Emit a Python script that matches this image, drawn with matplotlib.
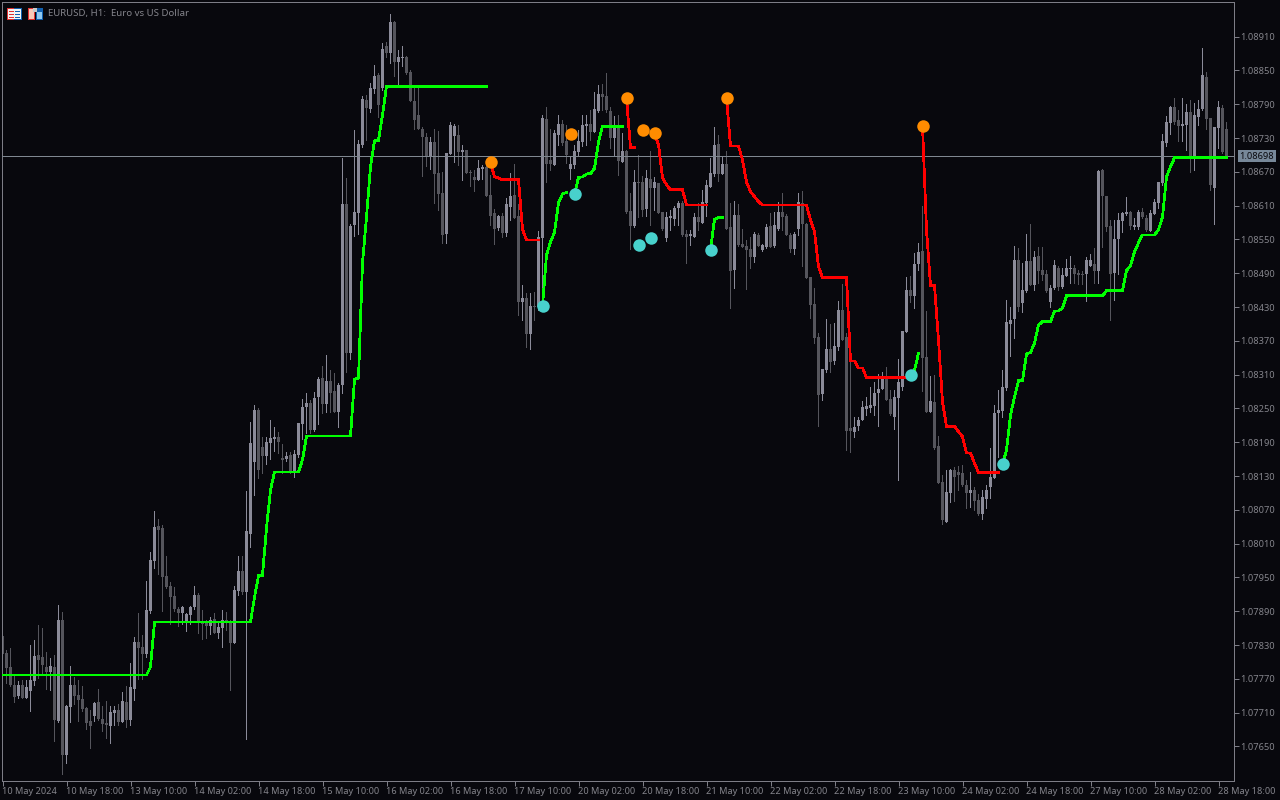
import matplotlib
matplotlib.use('Agg')
import matplotlib.pyplot as plt
import numpy as np
from matplotlib.patches import Rectangle

# quotes are points above 1.07000, one row per 10 hourly bars
opens_pts = [
    846, 816, 791, 759, 739, 759, 736, 748, 766, 812,
    809, 791, 782, 791, 695, 874, 635, 720, 759, 741,
    734, 718, 695, 704, 729, 699, 691, 686, 709, 715,
    693, 729, 697, 752, 835, 826, 814, 890, 979, 1041,
    1038, 953, 935, 917, 894, 887, 869, 883, 897, 919,
    871, 871, 864, 876, 851, 860, 874, 871, 834, 926,
    961, 924, 1027, 1155, 1247, 1182, 1166, 1189, 1196, 1199,
    1162, 1160, 1167, 1137, 1167, 1222, 1253, 1260, 1212, 1270,
    1304, 1258, 1299, 1281, 1244, 1292, 1613, 1348, 1576, 1597,
    1718, 1798, 1782, 1817, 1842, 1819, 1893, 1881, 1936, 1865,
    1872, 1874, 1847, 1796, 1771, 1746, 1732, 1698, 1723, 1668,
    1632, 1560, 1702, 1734, 1735, 1705, 1709, 1670, 1661, 1656,
    1675, 1679, 1629, 1597, 1570, 1592, 1561, 1608, 1629, 1592,
    1439, 1446, 1382, 1432, 1430, 1552, 1764, 1691, 1682, 1735,
    1755, 1725, 1675, 1682, 1705, 1723, 1751, 1755, 1741, 1778,
    1808, 1805, 1778, 1730, 1748, 1687, 1707, 1600, 1574, 1652,
    1652, 1604, 1657, 1641, 1650, 1599, 1552, 1588, 1586, 1606,
    1615, 1560, 1556, 1554, 1590, 1579, 1615, 1643, 1666, 1719,
    1666, 1684, 1572, 1496, 1593, 1542, 1538, 1533, 1519, 1558,
    1531, 1537, 1574, 1538, 1569, 1599, 1592, 1558, 1533, 1569,
    1615, 1577, 1483, 1435, 1377, 1276, 1318, 1356, 1334, 1359,
    1425, 1377, 1215, 1208, 1219, 1230, 1249, 1251, 1254, 1277,
    1284, 1302, 1267, 1235, 1269, 1288, 1386, 1460, 1450, 1506,
    1530, 1341, 1244, 1261, 1183, 1119, 1048, 1100, 1141, 1137,
    1135, 1114, 1100, 1105, 1087, 1063, 1089, 1111, 1127, 1242,
    1245, 1286, 1400, 1409, 1513, 1437, 1458, 1512, 1469, 1521,
    1496, 1489, 1439, 1464, 1499, 1466, 1485, 1498, 1499, 1490,
    1489, 1489, 1503, 1506, 1494, 1673, 1627, 1574, 1490, 1551,
    1583, 1595, 1599, 1572, 1572, 1599, 1588, 1565, 1595, 1615,
    1650, 1721, 1757, 1785, 1762, 1751, 1753, 1776, 1698, 1767,
    1782, 1838, 1766, 1641, 1748, 1783, 1746,
]
highs_pts = [
    848, 821, 825, 775, 766, 768, 768, 830, 839, 865,
    860, 818, 807, 812, 901, 889, 723, 793, 773, 768,
    757, 720, 715, 729, 752, 722, 731, 722, 722, 725,
    746, 757, 798, 844, 887, 848, 944, 995, 1068, 1054,
    1043, 988, 942, 933, 897, 899, 887, 899, 935, 922,
    892, 874, 880, 887, 871, 892, 889, 874, 935, 988,
    988, 1103, 1226, 1256, 1251, 1199, 1199, 1230, 1217, 1208,
    1187, 1173, 1173, 1176, 1224, 1267, 1277, 1265, 1279, 1306,
    1325, 1345, 1318, 1313, 1295, 1695, 1659, 1577, 1744, 1726,
    1805, 1806, 1828, 1860, 1845, 1899, 1900, 1950, 1938, 1886,
    1893, 1876, 1851, 1822, 1822, 1750, 1739, 1732, 1746, 1742,
    1670, 1703, 1758, 1755, 1753, 1718, 1709, 1673, 1673, 1691,
    1682, 1691, 1664, 1604, 1593, 1597, 1624, 1668, 1684, 1613,
    1469, 1455, 1455, 1457, 1565, 1771, 1785, 1746, 1744, 1771,
    1762, 1753, 1698, 1718, 1744, 1771, 1771, 1780, 1812, 1824,
    1826, 1845, 1785, 1769, 1771, 1739, 1709, 1632, 1673, 1700,
    1663, 1673, 1707, 1661, 1650, 1599, 1599, 1602, 1609, 1618,
    1618, 1567, 1567, 1597, 1615, 1638, 1655, 1695, 1750, 1735,
    1696, 1707, 1615, 1618, 1613, 1569, 1549, 1554, 1563, 1561,
    1542, 1577, 1597, 1599, 1616, 1632, 1595, 1561, 1563, 1632,
    1636, 1579, 1483, 1464, 1384, 1320, 1409, 1400, 1402, 1441,
    1471, 1384, 1352, 1235, 1235, 1263, 1270, 1288, 1297, 1311,
    1315, 1324, 1283, 1283, 1338, 1387, 1483, 1485, 1526, 1544,
    1609, 1423, 1308, 1309, 1201, 1132, 1141, 1143, 1146, 1148,
    1150, 1123, 1137, 1111, 1098, 1105, 1114, 1180, 1256, 1283,
    1318, 1442, 1430, 1538, 1535, 1508, 1560, 1577, 1530, 1537,
    1537, 1496, 1469, 1514, 1503, 1499, 1515, 1521, 1505, 1496,
    1494, 1519, 1524, 1535, 1673, 1675, 1627, 1585, 1585, 1597,
    1599, 1625, 1600, 1588, 1602, 1606, 1593, 1602, 1622, 1652,
    1737, 1769, 1787, 1801, 1780, 1801, 1790, 1797, 1792, 1797,
    1890, 1847, 1766, 1750, 1796, 1789, 1758,
]
lows_pts = [
    792, 763, 757, 729, 736, 736, 736, 713, 759, 771,
    777, 752, 750, 659, 693, 601, 620, 693, 725, 695,
    713, 681, 647, 695, 697, 677, 665, 656, 688, 688,
    693, 684, 688, 732, 770, 770, 809, 887, 967, 956,
    890, 931, 867, 890, 864, 867, 855, 867, 894, 851,
    841, 842, 849, 851, 842, 826, 857, 750, 834, 919,
    921, 663, 1004, 1096, 1127, 1135, 1151, 1160, 1174, 1171,
    1135, 1157, 1135, 1128, 1164, 1196, 1206, 1206, 1210, 1222,
    1242, 1244, 1244, 1244, 1217, 1277, 1315, 1338, 1556, 1560,
    1714, 1726, 1776, 1810, 1767, 1815, 1874, 1863, 1840, 1821,
    1858, 1844, 1796, 1746, 1746, 1663, 1680, 1675, 1615, 1602,
    1544, 1544, 1702, 1687, 1682, 1656, 1668, 1645, 1636, 1656,
    1657, 1627, 1576, 1542, 1567, 1554, 1556, 1585, 1588, 1416,
    1407, 1359, 1356, 1407, 1425, 1437, 1652, 1673, 1682, 1718,
    1718, 1686, 1657, 1677, 1700, 1716, 1718, 1726, 1741, 1776,
    1780, 1776, 1712, 1698, 1664, 1687, 1597, 1533, 1572, 1590,
    1592, 1592, 1576, 1602, 1597, 1567, 1547, 1567, 1576, 1576,
    1556, 1508, 1540, 1554, 1567, 1579, 1592, 1643, 1663, 1654,
    1666, 1569, 1428, 1464, 1538, 1537, 1462, 1499, 1510, 1538,
    1530, 1535, 1537, 1537, 1567, 1567, 1558, 1528, 1524, 1558,
    1503, 1482, 1411, 1366, 1219, 1265, 1315, 1315, 1329, 1354,
    1371, 1176, 1173, 1199, 1212, 1230, 1238, 1244, 1238, 1219,
    1284, 1265, 1238, 1214, 1123, 1283, 1386, 1439, 1428, 1496,
    1281, 1244, 1244, 1178, 1118, 1045, 1048, 1084, 1086, 1105,
    1112, 1073, 1075, 1070, 1061, 1054, 1073, 1091, 1127, 1164,
    1235, 1283, 1343, 1375, 1423, 1421, 1457, 1469, 1460, 1473,
    1478, 1457, 1430, 1462, 1460, 1464, 1485, 1473, 1473, 1471,
    1471, 1441, 1503, 1473, 1473, 1537, 1565, 1407, 1442, 1489,
    1563, 1593, 1569, 1569, 1569, 1588, 1565, 1565, 1595, 1606,
    1647, 1716, 1737, 1755, 1725, 1725, 1709, 1670, 1673, 1753,
    1780, 1746, 1638, 1577, 1712, 1703, 1698,
]
closes_pts = [
    814, 789, 759, 738, 759, 736, 755, 768, 810, 803,
    794, 782, 793, 697, 874, 635, 722, 759, 739, 732,
    716, 691, 686, 727, 699, 690, 688, 711, 715, 693,
    731, 697, 755, 835, 825, 814, 892, 981, 1040, 1034,
    951, 933, 915, 894, 887, 897, 885, 897, 919, 871,
    868, 864, 874, 851, 862, 874, 871, 834, 928, 961,
    924, 1032, 1189, 1247, 1141, 1166, 1190, 1197, 1199, 1190,
    1159, 1166, 1135, 1169, 1224, 1253, 1260, 1212, 1269, 1302,
    1258, 1299, 1277, 1244, 1292, 1613, 1348, 1574, 1599, 1719,
    1799, 1783, 1819, 1840, 1789, 1888, 1881, 1936, 1865, 1874,
    1874, 1845, 1796, 1762, 1746, 1732, 1698, 1723, 1666, 1631,
    1558, 1703, 1753, 1751, 1705, 1709, 1668, 1668, 1656, 1677,
    1679, 1627, 1592, 1569, 1592, 1561, 1613, 1627, 1588, 1439,
    1446, 1382, 1432, 1430, 1554, 1766, 1684, 1684, 1739, 1755,
    1721, 1700, 1684, 1707, 1725, 1753, 1755, 1741, 1782, 1808,
    1803, 1780, 1730, 1748, 1689, 1707, 1599, 1574, 1652, 1650,
    1602, 1659, 1641, 1652, 1597, 1569, 1590, 1592, 1606, 1615,
    1558, 1554, 1560, 1590, 1581, 1616, 1647, 1668, 1718, 1666,
    1684, 1569, 1494, 1593, 1540, 1537, 1531, 1519, 1560, 1538,
    1540, 1572, 1537, 1576, 1599, 1590, 1558, 1533, 1560, 1616,
    1577, 1482, 1434, 1375, 1274, 1320, 1356, 1332, 1361, 1425,
    1371, 1210, 1210, 1217, 1230, 1253, 1254, 1256, 1277, 1284,
    1302, 1265, 1240, 1270, 1297, 1387, 1460, 1450, 1506, 1528,
    1340, 1244, 1263, 1180, 1118, 1052, 1102, 1141, 1128, 1132,
    1114, 1100, 1105, 1086, 1063, 1093, 1105, 1128, 1242, 1247,
    1288, 1403, 1407, 1513, 1430, 1460, 1512, 1469, 1519, 1494,
    1487, 1458, 1464, 1505, 1466, 1487, 1499, 1499, 1489, 1487,
    1487, 1514, 1514, 1494, 1671, 1627, 1572, 1489, 1551, 1585,
    1597, 1599, 1574, 1576, 1599, 1590, 1567, 1597, 1616, 1652,
    1725, 1758, 1785, 1758, 1751, 1755, 1776, 1698, 1771, 1782,
    1842, 1764, 1647, 1750, 1785, 1705, 1698,
]

# indicator line pieces, (first bar, values)
up_a = ([777] * 37 + [791, 871] + [871] * 24 + [915, 953, 954, 1038, 1105] + [1137] * 7
        + [1159] + [1201] * 12 + [1302, 1304, 1508, 1590, 1679, 1725, 1726, 1771] + [1822] * 26)
up_b = [1432, 1522, 1546, 1562, 1615, 1631, 1633]
up_c = [1631, 1660, 1661, 1666, 1667, 1676, 1723] + [1751] * 6
up_d = [1531, 1586, 1589, 1589]
up_e = [1309, 1318, 1348]
up_f = ([1151, 1176, 1238, 1271, 1299, 1299, 1347, 1349, 1366, 1398] + [1404] * 3 + [1423] * 2
        + [1428] + [1450] * 10 + [1459] * 5 + [1495, 1503, 1528, 1544] + [1558] * 4
        + [1567, 1590, 1661, 1679] + [1695] * 14)
down_a = [1687, 1661, 1659, 1656, 1656, 1656, 1656, 1656, 1568, 1549, 1549, 1549, 1549]
down_b = [1801, 1713, 1713]
down_c = [1739, 1718, 1660, 1647] + [1638] * 4 + [1611] * 6
down_d = ([1801, 1716, 1716, 1716, 1691, 1652, 1635, 1626, 1617] + [1611] * 12
          + [1584, 1564, 1502] + [1482] * 7 + [1334, 1334, 1322, 1322] + [1305] * 11)
down_e = [1751, 1567, 1468, 1468, 1371, 1262, 1218, 1218, 1218, 1209, 1200, 1171, 1171, 1153] + [1136] * 6

up_pieces = [(0, up_a), (135, up_b), (143, up_c), (177, up_d), (227, up_e), (250, up_f)]
down_pieces = [(122, down_a), (156, down_b), (163, down_c), (181, down_d), (230, down_e)]

sell_bars = [122, 142, 156, 160, 163, 181, 230]
sell_pts = [1687, 1737, 1801, 1744, 1739, 1801, 1751]
buy_bars = [135, 143, 159, 162, 177, 227, 250]
buy_pts = [1432, 1631, 1540, 1553, 1531, 1309, 1151]

price_ticks = [1.08910, 1.08850, 1.08790, 1.08730, 1.08670, 1.08610, 1.08550, 1.08490,
               1.08430, 1.08370, 1.08310, 1.08250, 1.08190, 1.08130, 1.08070, 1.08010,
               1.07950, 1.07890, 1.07830, 1.07770, 1.07710, 1.07650]
time_labels = ['10 May 2024', '10 May 18:00', '13 May 10:00', '14 May 02:00', '14 May 18:00',
               '15 May 10:00', '16 May 02:00', '16 May 18:00', '17 May 10:00', '20 May 02:00',
               '20 May 18:00', '21 May 10:00', '22 May 02:00', '22 May 18:00', '23 May 10:00',
               '24 May 02:00', '24 May 18:00', '27 May 10:00', '28 May 02:00', '28 May 18:00']
last_price = 1.08698


def to_price(pts):
    return 1.07 + np.asarray(pts) / 1e5


BG = '#08080d'
FRAME = '#7d7d86'
TEXT = '#85858c'
BULL = '#8b8b99'
BEAR = '#55555c'

plt.rcParams['font.family'] = ['Noto Sans', 'DejaVu Sans']

fig = plt.figure(figsize=(12.8, 8), dpi=100, facecolor=BG)
ax = fig.add_axes([2 / 1280, 19.5 / 800, 1232 / 1280, 778.5 / 800], facecolor=BG)

opens, highs, lows, closes = map(to_price, (opens_pts, highs_pts, lows_pts, closes_pts))
bars = np.arange(len(opens))
colors = [BULL if c >= o else BEAR for o, c in zip(opens, closes)]

# candles, the small shift keeps the wick on the middle pixel of the body
ax.vlines(bars - 0.05, lows, highs, colors=colors, linewidth=0.72, antialiased=False, zorder=2)
ax.bar(bars, np.maximum(np.abs(closes - opens), 1e-5), bottom=np.minimum(opens, closes),
       width=0.75, color=colors, linewidth=0, antialiased=False, zorder=2)

ax.axhline(last_price, color='#7f8790', linewidth=0.72, zorder=3)

# indicator
for start, values in up_pieces:
    ax.plot(range(start, start + len(values)), to_price(values), color='#00ff00',
            linewidth=1.25, antialiased=False, solid_joinstyle='miter', zorder=4)
for start, values in down_pieces:
    ax.plot(range(start, start + len(values)), to_price(values), color='#ff0000',
            linewidth=1.25, antialiased=False, solid_joinstyle='miter', zorder=4)

ax.plot(sell_bars, to_price(sell_pts), 'o', color='#ff8c00', markersize=9, markeredgewidth=0, zorder=5)
ax.plot(buy_bars, to_price(buy_pts), 'o', color='#48d1cc', markersize=9, markeredgewidth=0, zorder=5)

ax.set_xlim(-0.125, 307.875)
ax.set_ylim(to_price(1975 - 1.775 * 780.5), to_price(1975 - 1.775 * 2))

# axes on the right and bottom
ax.yaxis.tick_right()
ax.set_yticks(price_ticks)
ax.set_yticklabels([f'{p:.5f}' for p in price_ticks])
ax.set_xticks(bars[::16])
ax.set_xticklabels(time_labels, ha='left')
ax.tick_params(axis='y', length=3.6, width=0.72, color=FRAME, labelcolor=TEXT, labelsize=6.7, pad=0.6)
ax.tick_params(axis='x', length=3.6, width=0.72, color=FRAME, labelcolor=TEXT, labelsize=6.6, pad=1)
for spine in ax.spines.values():
    spine.set_color(FRAME)
    spine.set_linewidth(0.72)

ax.annotate(f'{last_price:.5f}', xy=(1, last_price), xycoords=('axes fraction', 'data'),
            xytext=(3.9, 0), textcoords='offset points', va='center', ha='left',
            color='#08080d', fontsize=6.7, zorder=6,
            bbox=dict(boxstyle='square,pad=0.18', facecolor='#778899', edgecolor='none'),
            annotation_clip=False)

fig.text(48 / 1280, 1 - 13.5 / 800, 'EURUSD, H1:  Euro vs US Dollar', color=TEXT, fontsize=6.95, va='center')


# two small chart icons in the corner
def box(x, y, w, h, color):
    fig.add_artist(Rectangle((x / 1280, 1 - (y + h) / 800), w / 1280, h / 800, transform=fig.transFigure,
                             facecolor=color, edgecolor='none', antialiased=False))


box(7, 8, 15, 12, '#e8e8f0')
box(7, 8, 7, 12, '#e03030')
box(14, 8, 8, 12, '#1060b0')
box(8, 9, 13, 10, '#f4f4f4')
for row in (11, 14, 17):
    box(9, row, 5, 1, '#e03030')
    box(15, row, 5, 1, '#1060b0')
box(28, 8, 7, 12, '#e03030')
box(36, 8, 7, 12, '#1060b0')
box(29, 9, 5, 10, '#f8c8b8')
box(37, 12, 5, 7, '#90c8f0')
box(33, 8, 4, 4, '#c8c8c8')

fig.savefig('out.png', dpi=100, facecolor=BG)
